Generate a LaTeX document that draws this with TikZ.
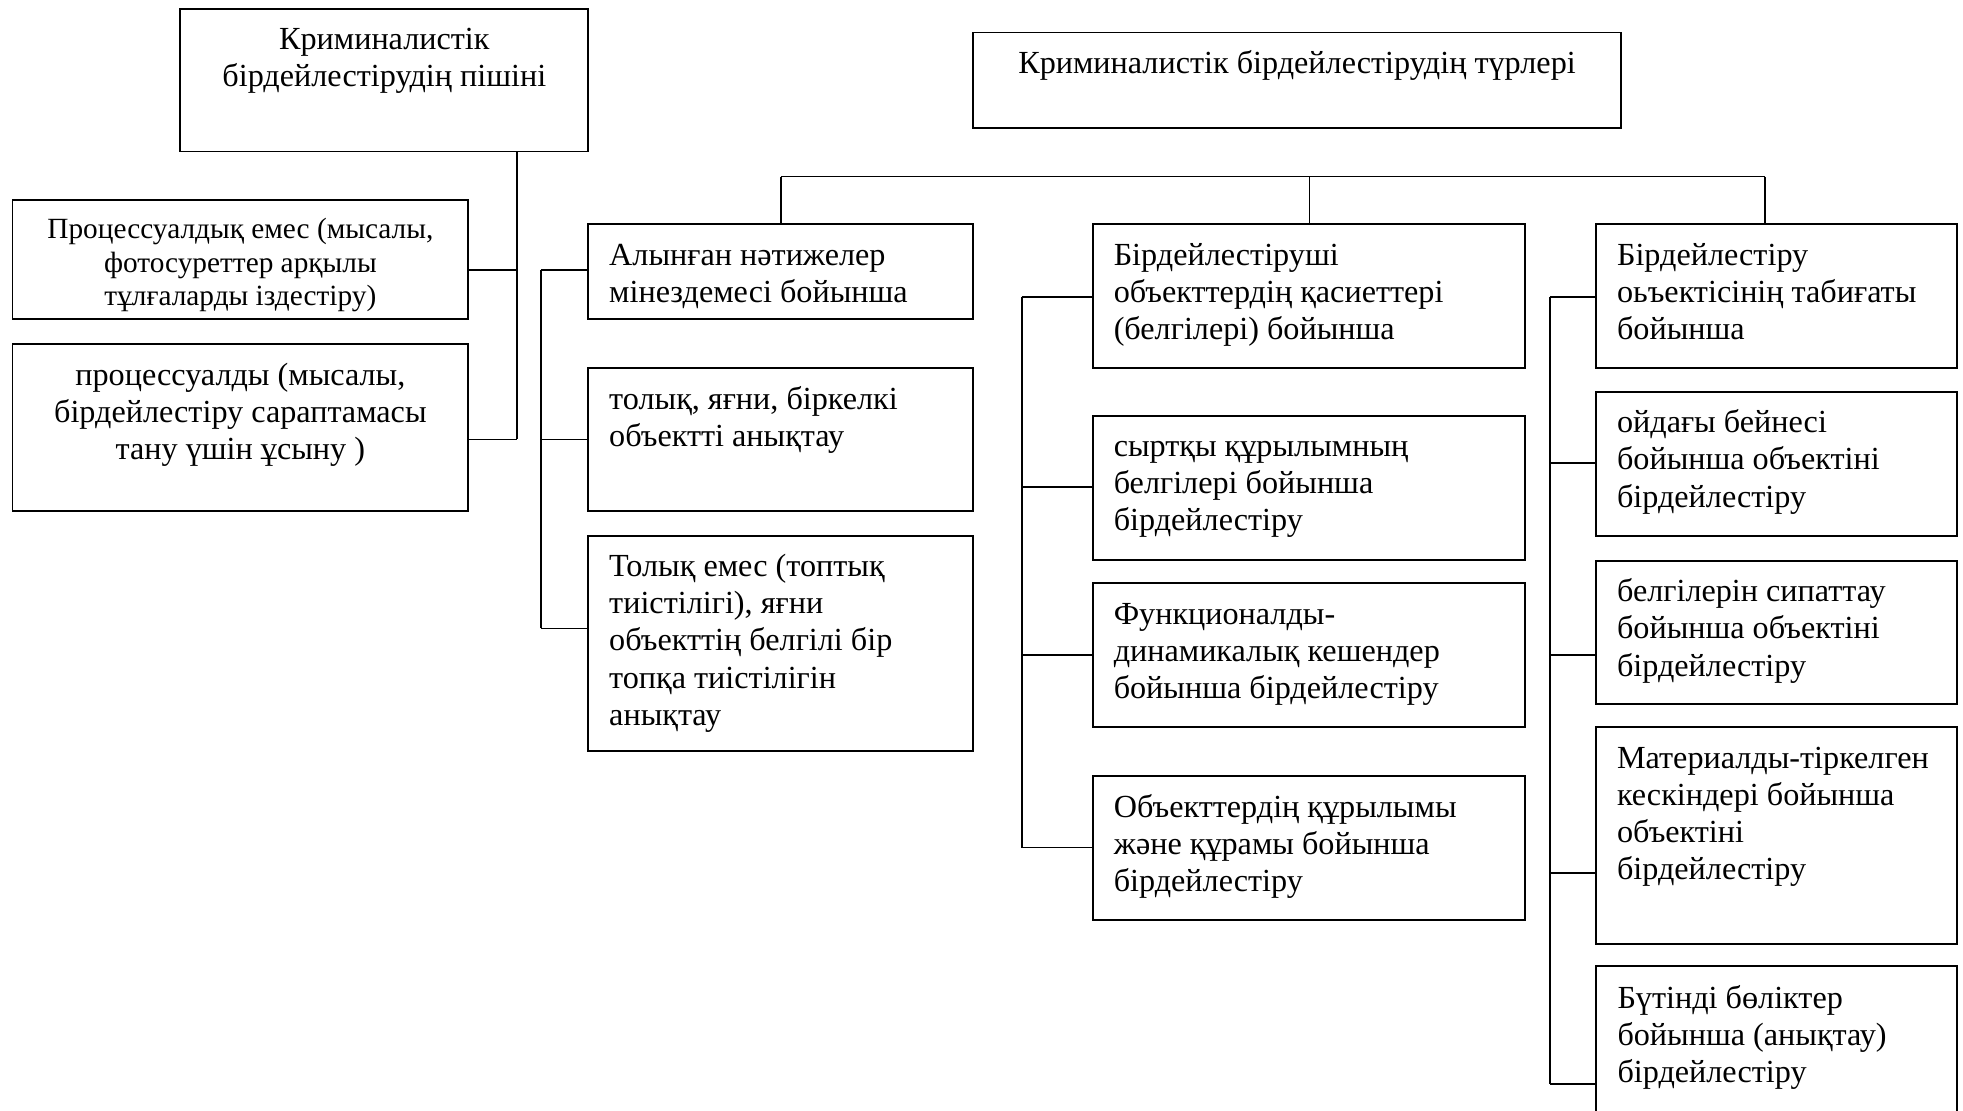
\documentclass[tikz,border=0pt]{standalone}
\usepackage{fontspec}
\setmainfont{Liberation Serif}
\usetikzlibrary{calc,fit}
\tikzset{
  box/.style={draw, line width=0.8pt, inner sep=0pt},
  openbox/.style={inner sep=0pt},
  lbl/.style={inner sep=0pt, font=\fontsize{14}{16.1}\selectfont, align=left, anchor=north west},
  clbl/.style={inner sep=0pt, font=\fontsize{14}{16.1}\selectfont, align=center, anchor=north},
  sclbl/.style={inner sep=0pt, font=\fontsize{12.75}{14.5}\selectfont, align=center, anchor=north},
  wire/.style={line width=0.8pt}
}
\begin{document}
\begin{tikzpicture}[x=0.5444pt,y=-0.5444pt]
\useasboundingbox (0,0) rectangle (1568,887);
% ---- boxes ----
\node[box, fit={(144,7) (470,121)}] (A) {};
\node[box, fit={(10,160) (374,255)}] (B1) {};
\node[box, fit={(10,275) (374,408)}] (B2) {};
\node[box, fit={(777,26) (1295,102)}] (T) {};
\node[box, fit={(470,179) (777,255)}] (C1) {};
\node[box, fit={(470,294) (777,408)}] (C2) {};
\node[box, fit={(470,428) (777,600)}] (C3) {};
\node[box, fit={(873,179) (1218,294)}] (D1) {};
\node[box, fit={(873,332) (1218,447)}] (D2) {};
\node[box, fit={(873,466) (1218,581)}] (D3) {};
\node[box, fit={(873,620) (1218,735)}] (D4) {};
\node[box, fit={(1275,179) (1563,294)}] (E1) {};
\node[box, fit={(1275,313) (1563,428)}] (E2) {};
\node[box, fit={(1275,448) (1563,562)}] (E3) {};
\node[box, fit={(1275,581) (1563,754)}] (E4) {};
\node[openbox, fit={(1275,772) (1563,892)}] (E5) {};
\draw[wire] (E5.south west) -- (E5.north west) -- (E5.north east) -- (E5.south east);
% ---- texts ----
\node[clbl] (tA) at ($(A.north)+(0,12.5)$) {\strut Криминалистік\\бірдейлестірудің пішіні};
\node[sclbl] (tB1) at ($(B1.north)+(0,12.4)$) {\strut Процессуалдық емес (мысалы,\\фотосуреттер арқылы\\тұлғаларды іздестіру)};
\node[clbl] (tB2) at ($(B2.north)+(0,12.5)$) {\strut процессуалды (мысалы,\\бірдейлестіру сараптамасы\\тану үшін ұсыну )};
\node[clbl] (tT) at ($(T.north)+(0,12.5)$) {\strut Криминалистік бірдейлестірудің түрлері};
\node[lbl] (tC1) at ($(C1.north west)+(17,12.5)$) {\strut Алынған нәтижелер\\мінездемесі бойынша};
\node[lbl] (tC2) at ($(C2.north west)+(17,12.5)$) {\strut толық, яғни, біркелкі\\объектті анықтау};
\node[lbl] (tC3) at ($(C3.north west)+(17,12.5)$) {\strut Толық емес (топтық\\тиістілігі), яғни\\объекттің белгілі бір\\топқа тиістілігін\\анықтау};
\node[lbl] (tD1) at ($(D1.north west)+(17,12.5)$) {\strut Бірдейлестіруші\\объекттердің қасиеттері\\(белгілері) бойынша};
\node[lbl] (tD2) at ($(D2.north west)+(17,12.5)$) {\strut сыртқы құрылымның\\белгілері бойынша\\бірдейлестіру};
\node[lbl] (tD3) at ($(D3.north west)+(17,12.5)$) {\strut Функционалды-\\динамикалық кешендер\\бойынша бірдейлестіру};
\node[lbl] (tD4) at ($(D4.north west)+(17,12.5)$) {\strut Объекттердің құрылымы\\және құрамы бойынша\\бірдейлестіру};
\node[lbl] (tE1) at ($(E1.north west)+(17,12.5)$) {\strut Бірдейлестіру\\оьъектісінің табиғаты\\бойынша};
\node[lbl] (tE2) at ($(E2.north west)+(17,12.5)$) {\strut ойдағы бейнесі\\бойынша объектіні\\бірдейлестіру};
\node[lbl] (tE3) at ($(E3.north west)+(17,12.5)$) {\strut белгілерін сипаттау\\бойынша объектіні\\бірдейлестіру};
\node[lbl] (tE4) at ($(E4.north west)+(17,12.5)$) {\strut Материалды-тіркелген\\кескіндері бойынша\\объектіні\\бірдейлестіру};
\node[lbl] (tE5) at ($(E5.north west)+(17,12.5)$) {\strut Бүтінді бөліктер\\бойынша (анықтау)\\бірдейлестіру};
% ---- junction coordinates ----
\coordinate (jB1) at (413,216);
\coordinate (jB2) at (413,351);
\coordinate (jC1) at (432,216);
\coordinate (jC2) at (432,351);
\coordinate (jC3) at (432,502);
\coordinate (bus1) at (624,141);
\coordinate (bus2) at (1046,141);
\coordinate (bus3) at (1410,141);
\coordinate (jD1) at (816,237);
\coordinate (jD2) at (816,389);
\coordinate (jD3) at (816,523);
\coordinate (jD4) at (816,677);
\coordinate (jE1) at (1238,237);
\coordinate (jE2) at (1238,370);
\coordinate (jE3) at (1238,523);
\coordinate (jE4) at (1238,697);
\coordinate (jE5) at (1238,866);
% ---- connectors ----
\draw[wire] (A.south -| jB1) -- (jB2);
\draw[wire] (B1.east |- jB1) -- (jB1);
\draw[wire] (B2.east |- jB2) -- (jB2);
\draw[wire] (jC1) -- (jC3);
\draw[wire] (jC1) -- (C1.west |- jC1);
\draw[wire] (jC2) -- (C2.west |- jC2);
\draw[wire] (jC3) -- (C3.west |- jC3);
\draw[wire] (bus1) -- (bus3);
\draw[wire] (bus1) -- (C1.north -| bus1);
\draw[wire] (bus2) -- (D1.north -| bus2);
\draw[wire] (bus3) -- (E1.north -| bus3);
\draw[wire] (jD1) -- (jD4);
\draw[wire] (jD1) -- (D1.west |- jD1);
\draw[wire] (jD2) -- (D2.west |- jD2);
\draw[wire] (jD3) -- (D3.west |- jD3);
\draw[wire] (jD4) -- (D4.west |- jD4);
\draw[wire] (jE1) -- (jE5);
\draw[wire] (jE1) -- (E1.west |- jE1);
\draw[wire] (jE2) -- (E2.west |- jE2);
\draw[wire] (jE3) -- (E3.west |- jE3);
\draw[wire] (jE4) -- (E4.west |- jE4);
\draw[wire] (jE5) -- (E5.west |- jE5);
\end{tikzpicture}
\end{document}
